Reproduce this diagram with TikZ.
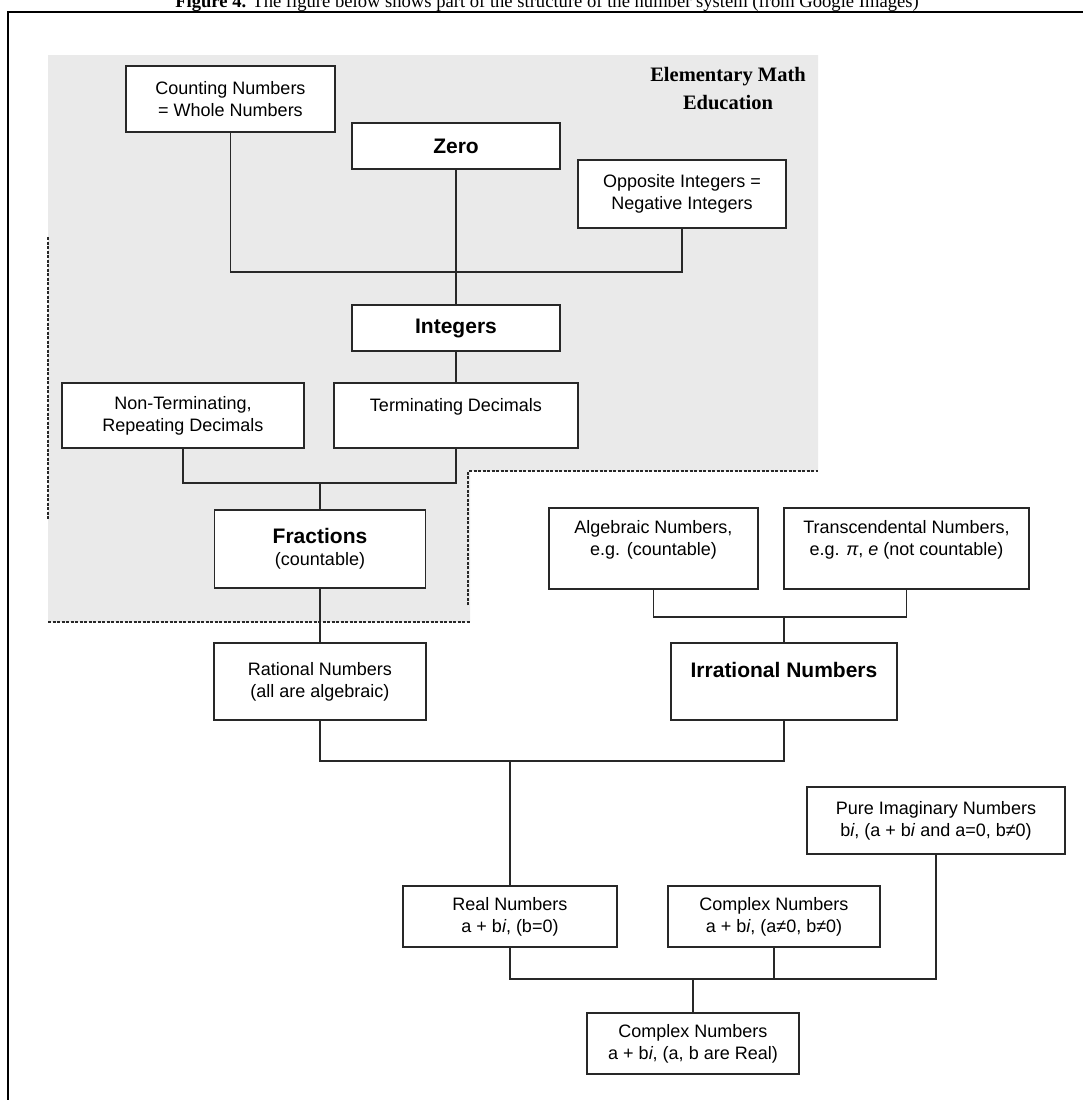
\documentclass[tikz,border=0pt]{standalone}
\usepackage{fontspec}
\setmainfont{Liberation Serif}
\newfontfamily\boxfont{Liberation Sans}
\usepackage{tikz}
\definecolor{edubg}{RGB}{234,234,234}
\definecolor{boxline}{RGB}{40,40,40}

\begin{document}
\begin{tikzpicture}[x=1pt, y=-1pt,
  box/.style={draw=boxline, line width=1.6pt, fill=white, align=center, inner sep=0pt,
    font=\boxfont\fontsize{18}{22}\selectfont},
  boldbox/.style={box, font=\boxfont\bfseries\fontsize{21}{24}\selectfont},
  link/.style={draw=boxline, line width=1.6pt},
  border/.style={draw=boxline, line width=1.4pt, dash pattern=on 3pt off 1.5pt}]
\useasboundingbox (0,0) rectangle (1083,1100);
% frame and caption
\draw[line width=1.5pt] (8,1100) -- (8,12) -- (1083,12);
\node[anchor=base, font=\fontsize{18.6}{22}\selectfont] (caption) at (547,8)
  {\textbf{Figure 4.} The figure below shows part of the structure of the number system (from Google Images)};
% elementary math education area
\fill[edubg] (48,55) -- (818,55) -- (818,471) -- (470,471) -- (470,622) -- (48,622) -- cycle;
\draw[border] (48,237) -- (48,520);
\draw[border] (48,622) -- (470,622);
\draw[border] (468,605) -- (468,471) -- (818,471);
\node[align=center, font=\bfseries\fontsize{20.5}{28}\selectfont] (elem) at (728,89) {Elementary Math\\Education};
% top row
\node[box, minimum width=209, minimum height=66] (count) at (230.5,99) {Counting Numbers\\= Whole Numbers};
\node[boldbox, minimum width=208, minimum height=46] (zero) at (456,146) {Zero};
\node[box, minimum width=208, minimum height=68] (opp) at (682,194) {Opposite Integers =\\Negative Integers};
\coordinate (jtop) at (456,272);
\draw[link] (count.south) |- (jtop) -| (opp.south);
\node[boldbox, minimum width=208, minimum height=46] (int) at (456,328) {Integers};
\draw[link] (zero.south) -- (int.north);
% decimals and fractions
\node[box, minimum width=242, minimum height=65] (nonterm) at (183,415.5) {Non-Terminating,\\Repeating Decimals};
\node[box, minimum width=244, minimum height=65] (term) at (456,415.5) {Terminating Decimals\\\mbox{}};
\draw[link] (int.south) -- (term.north);
\coordinate (jfrac) at (320,483);
\draw[link] (nonterm.south) |- (jfrac) -| (term.south);
\node[box, minimum width=211, minimum height=78] (frac) at (320,549)
  {{\bfseries\fontsize{21}{24}\selectfont Fractions}\\(countable)};
\draw[link] (jfrac) -- (frac.north);
% rational and irrational
\node[box, minimum width=212, minimum height=77] (rat) at (320,681.5) {Rational Numbers\\(all are algebraic)};
\draw[link] (frac.south) -- (rat.north);
\node[box, minimum width=209, minimum height=81] (alg) at (653.5,548.5) {Algebraic Numbers,\\e.g. (countable)\\\mbox{}};
\node[box, minimum width=245, minimum height=81] (trans) at (906.5,548.5)
  {Transcendental Numbers,\\e.g. \textit{π}, \textit{e} (not countable)\\\mbox{}};
\coordinate (jirr) at (784,617);
\draw[link] (alg.south) |- (jirr) -| (trans.south);
\node[boldbox, minimum width=226, minimum height=77] (irr) at (784,681.5) {Irrational Numbers\\\mbox{}};
\draw[link] (jirr) -- (irr.north);
\coordinate (jreal) at (510,761);
\draw[link] (rat.south) |- (jreal) -| (irr.south);
% real and complex
\node[box, minimum width=258, minimum height=67] (pure) at (936,820.5)
  {Pure Imaginary Numbers\\b\textit{i}, (a + b\textit{i} and a=0, b≠0)};
\node[box, minimum width=214, minimum height=61] (real) at (510,916.5) {Real Numbers\\a + b\textit{i}, (b=0)};
\node[box, minimum width=212, minimum height=61] (cplx) at (774,916.5) {Complex Numbers\\a + b\textit{i}, (a≠0, b≠0)};
\draw[link] (jreal) -- (real.north);
\coordinate (jall) at (693,979);
\draw[link] (real.south) |- (jall) -| (pure.south);
\draw[link] (cplx.south) -- (cplx.south |- jall);
\node[box, minimum width=212, minimum height=61] (allc) at (693,1043.5) {Complex Numbers\\a + b\textit{i}, (a, b are Real)};
\draw[link] (jall) -- (allc.north);
\end{tikzpicture}
\end{document}
